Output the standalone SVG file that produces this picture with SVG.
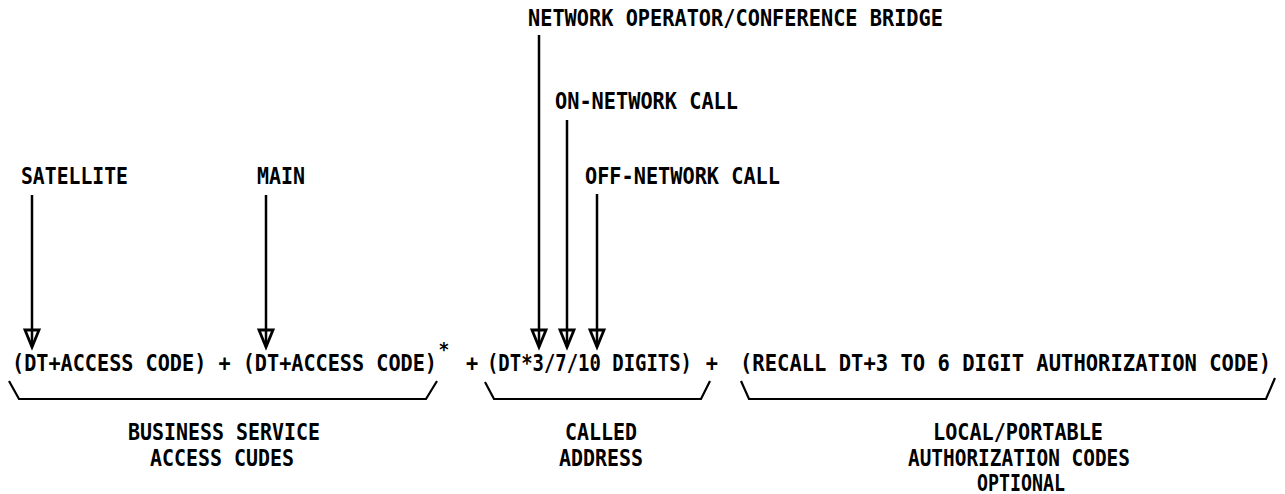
<svg xmlns="http://www.w3.org/2000/svg" width="1285" height="494" viewBox="0 0 1285 494">
<style>
  text { font-family: "DejaVu Sans Mono", "Liberation Mono", monospace; font-weight: bold; font-size: 20.3px; fill: #000; }
  .c { text-anchor: middle; }
  .sup { font-size: 18px; }
  .shaft { stroke: #000; stroke-width: 2.5; fill: none; }
  .head { stroke: #000; stroke-width: 2.8; fill: none; stroke-linejoin: miter; }
  .brace { stroke: #000; stroke-width: 2.2; fill: none; }
</style>
<rect width="1285" height="494" fill="#fff"/>

<g transform="scale(1,1.12)">
  <g id="label-network-operator">
    <text x="528" y="23.2" textLength="415" lengthAdjust="spacingAndGlyphs">NETWORK OPERATOR/CONFERENCE BRIDGE</text>
  </g>
  <g id="label-on-network">
    <text x="555" y="97.3" textLength="183" lengthAdjust="spacingAndGlyphs">ON-NETWORK CALL</text>
  </g>
  <g id="label-off-network">
    <text x="585" y="164.3" textLength="195" lengthAdjust="spacingAndGlyphs">OFF-NETWORK CALL</text>
  </g>
  <g id="label-satellite">
    <text x="21" y="164.3" textLength="107" lengthAdjust="spacingAndGlyphs">SATELLITE</text>
  </g>
  <g id="label-main">
    <text x="257" y="164.3" textLength="48" lengthAdjust="spacingAndGlyphs">MAIN</text>
  </g>

  <g id="formula">
    <text x="12" y="331.3" textLength="425" lengthAdjust="spacingAndGlyphs">(DT+ACCESS CODE) + (DT+ACCESS CODE)</text>
    <text x="444" y="318" class="c sup">*</text>
    <text x="472" y="331.3" class="c">+</text>
    <text x="487" y="331.3" textLength="205" lengthAdjust="spacingAndGlyphs">(DT*3/7/10 DIGITS)</text>
    <text x="712" y="331.3" class="c">+</text>
    <text x="740" y="331.3" textLength="531" lengthAdjust="spacingAndGlyphs">(RECALL DT+3 TO 6 DIGIT AUTHORIZATION CODE)</text>
  </g>

  <g id="label-business-service">
    <text x="224" y="392.9" class="c" textLength="192" lengthAdjust="spacingAndGlyphs">BUSINESS SERVICE</text>
    <text x="222" y="416.1" class="c" textLength="144" lengthAdjust="spacingAndGlyphs">ACCESS CUDES</text>
  </g>
  <g id="label-called-address">
    <text x="601" y="392.9" class="c" textLength="72" lengthAdjust="spacingAndGlyphs">CALLED</text>
    <text x="601" y="416.1" class="c" textLength="84" lengthAdjust="spacingAndGlyphs">ADDRESS</text>
  </g>
  <g id="label-authorization">
    <text x="1018" y="392.9" class="c" textLength="170" lengthAdjust="spacingAndGlyphs">LOCAL/PORTABLE</text>
    <text x="1019" y="416.1" class="c" textLength="222" lengthAdjust="spacingAndGlyphs">AUTHORIZATION CODES</text>
    <text x="1021" y="438.4" class="c" textLength="88" lengthAdjust="spacingAndGlyphs">OPTIONAL</text>
  </g>
</g>

<g id="connectors">
  <g id="arrow-satellite">
    <line class="shaft" x1="32" y1="195" x2="32" y2="347"/>
    <polygon class="head" points="25,330 39,330 32,347"/>
  </g>
  <g id="arrow-main">
    <line class="shaft" x1="266" y1="195" x2="266" y2="347"/>
    <polygon class="head" points="259,330 273,330 266,347"/>
  </g>
  <g id="arrow-network-operator">
    <line class="shaft" x1="539" y1="35" x2="539" y2="347"/>
    <polygon class="head" points="532,330 546,330 539,347"/>
  </g>
  <g id="arrow-on-network">
    <line class="shaft" x1="567" y1="120" x2="567" y2="347"/>
    <polygon class="head" points="560,330 574,330 567,347"/>
  </g>
  <g id="arrow-off-network">
    <line class="shaft" x1="597" y1="194" x2="597" y2="347"/>
    <polygon class="head" points="590,330 604,330 597,347"/>
  </g>
  <polyline id="brace-access" class="brace" points="9,381 19,399 426,399 437,381"/>
  <polyline id="brace-called" class="brace" points="485,382 494,399 701,399 710,381"/>
  <polyline id="brace-auth" class="brace" points="741,381 749,399 1266,399 1275,378"/>
</g>
</svg>
